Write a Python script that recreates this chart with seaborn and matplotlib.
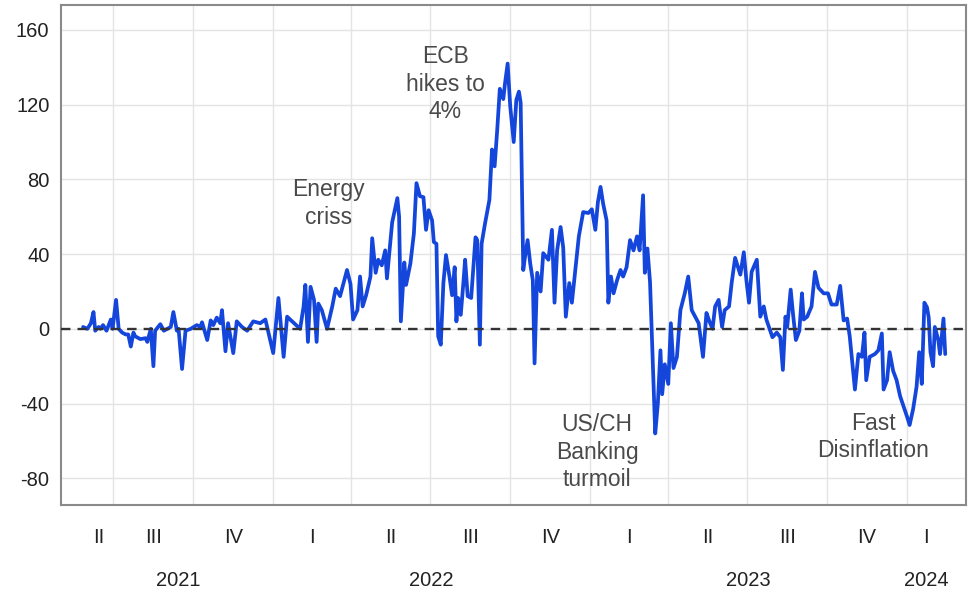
import pandas as pd
import seaborn as sns
import matplotlib.pyplot as plt
import matplotlib.transforms as mtransforms

# values (irregular spacing, spikes kept)
dates = [
    "2021-05-27", "2021-06-01", "2021-06-05", "2021-06-08", "2021-06-10", "2021-06-14", "2021-06-16", "2021-06-19",
    "2021-06-23", "2021-06-28", "2021-06-30", "2021-07-04", "2021-07-07", "2021-07-11", "2021-07-15", "2021-07-18",
    "2021-07-21", "2021-07-24", "2021-07-26", "2021-08-01", "2021-08-07", "2021-08-09", "2021-08-13", "2021-08-16",
    "2021-08-18", "2021-08-24", "2021-08-28", "2021-09-01", "2021-09-05", "2021-09-08", "2021-09-12", "2021-09-14",
    "2021-09-18", "2021-09-22", "2021-09-28", "2021-10-05", "2021-10-09", "2021-10-11", "2021-10-17", "2021-10-21",
    "2021-10-24", "2021-10-28", "2021-11-01", "2021-11-03", "2021-11-07", "2021-11-10", "2021-11-16", "2021-11-20",
    "2021-11-26", "2021-12-02", "2021-12-09", "2021-12-17",
    "2021-12-23", "2022-01-01", "2022-01-07", "2022-01-13", "2022-01-17", "2022-01-25", "2022-02-01", "2022-02-05",
    "2022-02-07", "2022-02-10", "2022-02-13", "2022-02-17", "2022-02-20", "2022-02-22", "2022-02-26", "2022-03-04",
    "2022-03-10", "2022-03-14", "2022-03-19", "2022-03-27", "2022-03-31", "2022-04-03", "2022-04-08", "2022-04-11",
    "2022-04-14", "2022-04-18", "2022-04-23", "2022-04-25", "2022-04-29", "2022-05-02", "2022-05-06", "2022-05-10",
    "2022-05-12", "2022-05-18", "2022-05-24", "2022-05-26", "2022-05-28", "2022-06-01", "2022-06-03", "2022-06-08",
    "2022-06-12", "2022-06-15", "2022-06-19",
    "2022-06-23", "2022-06-26", "2022-06-29", "2022-07-03", "2022-07-05", "2022-07-08", "2022-07-10", "2022-07-13",
    "2022-07-16", "2022-07-19", "2022-07-23", "2022-07-26", "2022-07-29", "2022-07-31", "2022-08-02", "2022-08-05",
    "2022-08-08", "2022-08-10", "2022-08-13", "2022-08-17", "2022-08-22", "2022-08-24", "2022-08-27", "2022-08-29",
    "2022-09-02", "2022-09-07", "2022-09-10", "2022-09-13", "2022-09-16", "2022-09-19", "2022-09-23", "2022-09-25",
    "2022-09-28", "2022-10-01", "2022-10-05", "2022-10-08", "2022-10-11", "2022-10-13", "2022-10-16", "2022-10-18",
    "2022-10-21", "2022-10-24", "2022-10-27", "2022-10-29", "2022-11-01", "2022-11-05", "2022-11-08", "2022-11-14",
    "2022-11-18", "2022-11-21", "2022-11-24", "2022-11-28", "2022-12-01", "2022-12-04", "2022-12-08", "2022-12-11",
    "2022-12-15", "2022-12-19", "2022-12-24", "2022-12-30", "2023-01-03", "2023-01-07", "2023-01-10", "2023-01-13",
    "2023-01-16", "2023-01-20", "2023-01-22", "2023-01-25", "2023-01-28", "2023-02-01", "2023-02-05", "2023-02-08",
    "2023-02-12", "2023-02-16", "2023-02-20", "2023-02-24", "2023-02-27", "2023-03-03", "2023-03-05", "2023-03-08",
    "2023-03-11", "2023-03-14", "2023-03-17", "2023-03-20", "2023-03-23", "2023-03-25", "2023-03-28", "2023-04-01",
    "2023-04-04", "2023-04-07", "2023-04-11", "2023-04-15", "2023-04-20", "2023-04-24", "2023-04-28", "2023-05-02",
    "2023-05-06", "2023-05-11", "2023-05-15", "2023-05-18", "2023-05-22", "2023-05-25", "2023-05-29", "2023-06-02",
    "2023-06-05", "2023-06-10", "2023-06-13", "2023-06-17",
    "2023-06-23", "2023-06-27", "2023-06-30", "2023-07-03", "2023-07-06", "2023-07-12", "2023-07-16", "2023-07-20",
    "2023-07-23", "2023-07-26", "2023-07-30", "2023-08-04", "2023-08-08", "2023-08-11", "2023-08-14", "2023-08-16",
    "2023-08-20", "2023-08-23", "2023-08-26", "2023-08-30", "2023-09-02", "2023-09-04", "2023-09-08", "2023-09-13",
    "2023-09-17", "2023-09-21", "2023-09-27", "2023-10-02", "2023-10-06", "2023-10-12", "2023-10-16", "2023-10-20",
    "2023-10-24", "2023-10-27",
    "2023-11-02", "2023-11-06", "2023-11-10", "2023-11-13", "2023-11-15", "2023-11-19", "2023-11-25", "2023-11-29",
    "2023-12-03", "2023-12-05", "2023-12-09", "2023-12-12", "2023-12-16", "2023-12-20", "2023-12-24", "2023-12-28",
    "2024-01-01", "2024-01-04", "2024-01-08", "2024-01-12", "2024-01-15", "2024-01-18", "2024-01-21", "2024-01-24",
    "2024-01-26", "2024-01-28", "2024-01-31", "2024-02-02", "2024-02-06", "2024-02-08", "2024-02-12", "2024-02-14",
]
spread = [
    1, 0, 3, 9, -1, 1, 0, 2,
    -1, 5, 0, 15.5, 0, -2, -3, -3,
    -9.5, -2, -4, -5.5, -5, -7, 0, -20,
    -1, 2.5, -1, 0, 1, 9, -1, 0,
    -21.5, -1, 0, 2, 1, 3.5, -6, 4.5,
    2, 6, 3, 10, -12, 3, -13, 4,
    1, -1, 4, 3,
    5, -13, 16.5, -15, 6.5, 3, 0, 12,
    23.5, -7, 22.5, 15.5, -7, 13.5, 10, 0,
    12, 21.5, 17.5, 31.5, 24, 5, 10, 28,
    12, 18, 28, 48.5, 30, 37, 34, 42,
    27, 57, 70, 60, 4, 35.5, 23.5, 35,
    51, 78, 71,
    70.5, 53, 63.5, 58, 46.5, 45.5, -4, -8.5,
    24.5, 39.5, 28, 18, 33, 4, 16.5, 7.5,
    24.5, 37, 17.5, 16.5, 49, 47.5, -8.5, 45.5,
    56.5, 69, 96, 87, 106.5, 128.5, 123, 131.5,
    142, 119, 100, 122.5, 127, 121, 31.5, 38.5,
    47.5, 35, 26, -18.5, 30, 20, 40.5, 37,
    53, 14, 42, 54.5, 43.5, 6.5, 24.5, 14,
    31.5, 49.5, 62.5, 62, 64, 53, 68, 76,
    67, 58, 14, 28, 19, 26, 31.5, 28,
    33, 47.5, 42, 49.5, 42, 71.5, 30, 43,
    25, -15, -56, -40, -11.5, -35, -19, -29.5,
    3, -21, -15, 10, 19, 28, 10, 6.5,
    3, -15, 8.5, 4.5, 0, 12, 15.5, 1,
    10, 12, 24.5, 38,
    29, 41, 26, 14, 30.5, 37, 6.5, 12,
    5, 1, -4.5, -2, -4.5, -22, 6.5, 1,
    21, 6.5, -6, -1, 19, 5, 6.5, 12,
    30.5, 22, 19, 19, 13, 13, 23, 4.5,
    5.5, -4,
    -32.5, -13.5, -15, -2, -27.5, -15, -13.5, -11.5,
    -2.5, -32.5, -27.5, -12.5, -22.5, -27.5, -36, -41.5,
    -47, -51.5, -43, -31, -12.5, -29.5, 14, 11.5,
    6, -12.5, -20, 1, -6, -13.5, 5.5, -13.5,
]

events = ["Energy\ncriss", "ECB\nhikes to\n4%", "US/CH\nBanking\nturmoil", "Fast\nDisinflation"]
event_dates = ["2022-03-06", "2022-07-18", "2023-01-09", "2023-11-23"]
event_levels = [67, 131, -66, -58]

y_ticks = [-80, -40, 0, 40, 80, 120, 160]
roman = ["I", "II", "III", "IV"]

sns.set_style("white")
plt.rcParams["font.family"] = ["Liberation Sans", "DejaVu Sans"]

df = pd.DataFrame({"date": pd.to_datetime(dates), "value": spread})

fig = plt.figure(figsize=(9.68, 5.95), dpi=100)
ax = fig.add_axes([0.0625, 0.151, 0.9355, 0.841])

sns.lineplot(data=df, x="date", y="value", color="#1446dc", linewidth=2.7,
             estimator=None, ax=ax, zorder=2)
ax.axhline(0, color="#333333", lw=1.7, ls=(0, (4, 3)), zorder=3)

# annotations
for txt, d, lvl in zip(events, event_dates, event_levels):
    ax.text(pd.Timestamp(d), lvl, txt, ha="center", va="center",
            fontsize=16.5, color="#4a4a4a", linespacing=1.25)

# axes limits / ticks
ax.set_xlim(pd.Timestamp("2021-05-01"), pd.Timestamp("2024-03-09"))
ax.set_ylim(-94.4, 173.5)
ax.set_yticks(y_ticks)
ax.set_yticklabels([str(v) for v in y_ticks])
ax.set_xlabel("")
ax.set_ylabel("")

first, last = df["date"].min(), df["date"].max()
year_starts = pd.date_range(first, last, freq="YS")
quarter_starts = pd.date_range(first, last, freq="QS")
ax.set_xticks(year_starts)
ax.set_xticks(quarter_starts, minor=True)
ax.tick_params(axis="x", which="major", length=12, width=1, color="#555555", labelbottom=False)
ax.tick_params(axis="x", which="minor", length=7, width=1, color="#555555", labelbottom=False)
ax.tick_params(axis="y", length=5, width=1, color="#555555", labelsize=14.5, labelcolor="#222222", pad=3)

ax.grid(axis="x", which="both", color="#e4e4e4", lw=1)
ax.grid(axis="y", which="major", color="#e4e4e4", lw=1)
ax.set_axisbelow(True)
for s in ax.spines.values():
    s.set_color("#8a8a8a")
    s.set_linewidth(1.5)

# quarter and year labels centred on the data span they cover
trans = mtransforms.blended_transform_factory(ax.transData, ax.transAxes)
for q in pd.period_range(first, last, freq="Q"):
    lo = max(q.start_time, first)
    hi = min(q.end_time, last)
    ax.text(lo + (hi - lo) / 2, -0.064, roman[q.quarter - 1], transform=trans,
            ha="center", va="center", fontsize=14.5, color="#222222")
for y in pd.period_range(first, last, freq="Y"):
    lo = max(y.start_time, first)
    hi = min(y.end_time, last)
    ax.text(lo + (hi - lo) / 2, -0.15, str(y.year), transform=trans,
            ha="center", va="center", fontsize=14.5, color="#222222")

fig.savefig("out.png", dpi=100)
